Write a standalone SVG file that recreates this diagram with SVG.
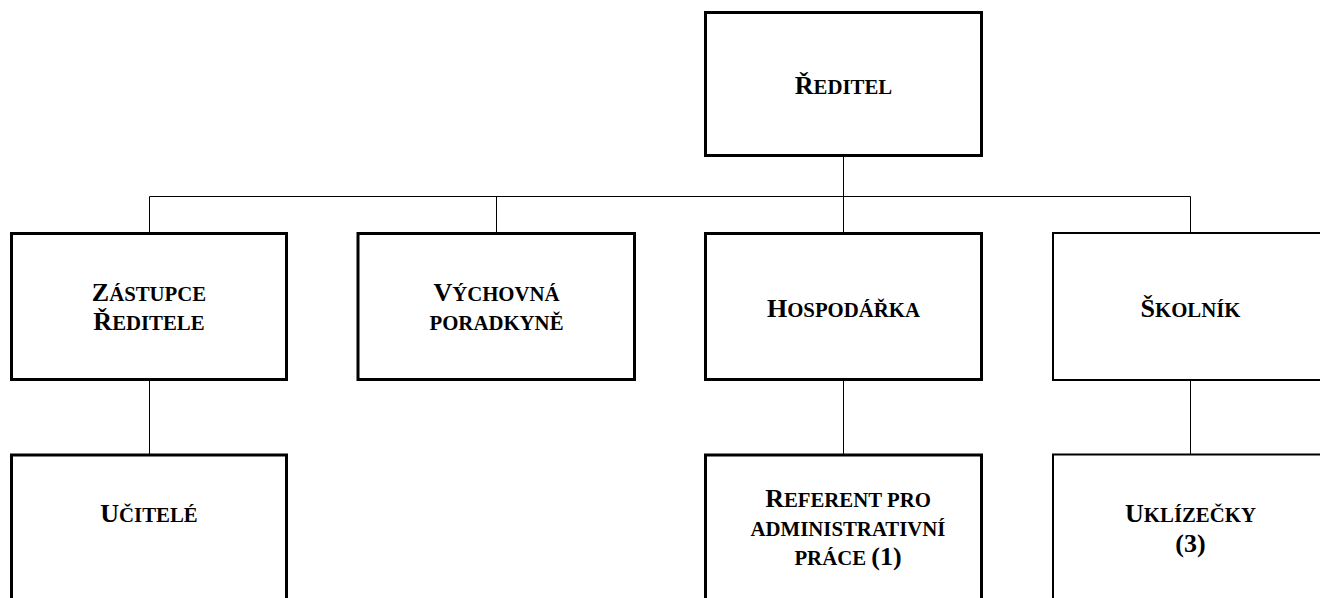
<svg xmlns="http://www.w3.org/2000/svg" width="1320" height="598" viewBox="0 0 1320 598">
<style>
.box{fill:#fff;stroke:#000;stroke-width:3}
.thin{stroke-width:2}
.lbl{font-family:"Liberation Serif","Times New Roman",serif;font-weight:bold;font-size:26px;fill:#000;text-anchor:middle}
.sc{font-size:20.8px}
.conn{stroke:#000;stroke-width:1;fill:none}
</style>
<rect width="1320" height="598" fill="#fff"/>
<g id="connectors">
<line class="conn" x1="843.5" y1="157" x2="843.5" y2="232"/>
<line class="conn" x1="149.5" y1="196.5" x2="1190.5" y2="196.5"/>
<line class="conn" x1="149.5" y1="196.5" x2="149.5" y2="232"/>
<line class="conn" x1="496.5" y1="196.5" x2="496.5" y2="232"/>
<line class="conn" x1="1190.5" y1="196.5" x2="1190.5" y2="232"/>
<line class="conn" x1="149.5" y1="381" x2="149.5" y2="454"/>
<line class="conn" x1="843.5" y1="381" x2="843.5" y2="454"/>
<line class="conn" x1="1190.5" y1="381" x2="1190.5" y2="454"/>
</g>
<g id="reditel">
<rect class="box" x="705.5" y="12.5" width="276" height="143"/>
<text class="lbl" x="843.5" y="94">Ř<tspan class="sc">EDITEL</tspan></text>
</g>
<g id="zastupce">
<rect class="box" x="11.5" y="233.5" width="275" height="146"/>
<text class="lbl" x="149" y="301">Z<tspan class="sc">ÁSTUPCE</tspan></text>
<text class="lbl" x="149" y="329.5">Ř<tspan class="sc">EDITELE</tspan></text>
</g>
<g id="vychovna">
<rect class="box" x="358" y="233.5" width="276.5" height="146"/>
<text class="lbl" x="496.5" y="301">V<tspan class="sc">ÝCHOVNÁ</tspan></text>
<text class="lbl" x="496.5" y="329.5"><tspan class="sc">PORADKYNĚ</tspan></text>
</g>
<g id="hospodarka">
<rect class="box" x="705.5" y="233.5" width="276" height="146"/>
<text class="lbl" x="843.5" y="316.7">H<tspan class="sc">OSPODÁŘKA</tspan></text>
</g>
<g id="skolnik">
<rect class="box thin" x="1053" y="233" width="276" height="147"/>
<text class="lbl" x="1190.5" y="316.7">Š<tspan class="sc">KOLNÍK</tspan></text>
</g>
<g id="ucitele">
<rect class="box" x="11.5" y="455" width="275" height="200"/>
<text class="lbl" x="149" y="521.7">U<tspan class="sc">ČITELÉ</tspan></text>
</g>
<g id="referent">
<rect class="box" x="705.5" y="455" width="276" height="200"/>
<text class="lbl" x="848" y="507.3">R<tspan class="sc">EFERENT PRO</tspan></text>
<text class="lbl" x="848" y="536"><tspan class="sc">ADMINISTRATIVNÍ</tspan></text>
<text class="lbl" x="848" y="564.5"><tspan class="sc">PRÁCE </tspan>(1)</text>
</g>
<g id="uklizecky">
<rect class="box thin" x="1053" y="454.5" width="276" height="200"/>
<text class="lbl" x="1190.5" y="521.7">U<tspan class="sc">KLÍZEČKY</tspan></text>
<text class="lbl" x="1190.5" y="551.5">(3)</text>
</g>
</svg>
